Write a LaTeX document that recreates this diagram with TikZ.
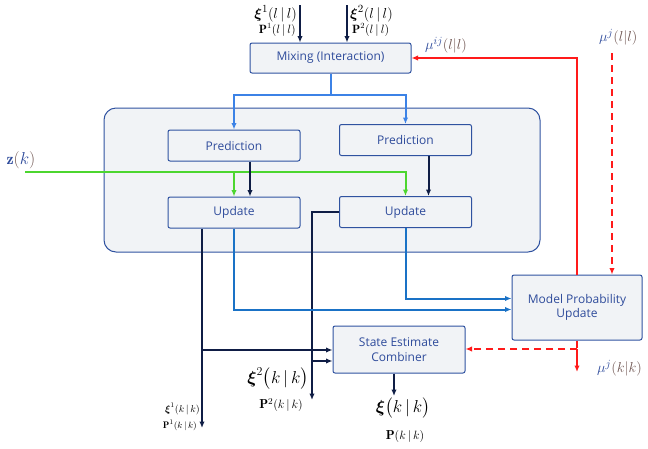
\documentclass[tikz,border=0pt]{standalone}
\usepackage{amsmath, amssymb}
\usepackage{fontspec}
\setsansfont{Open Sans}
\usepackage{tikz}
\usetikzlibrary{arrows.meta, calc, positioning}
\usepackage{xcolor}
\definecolor{boxfill}{HTML}{F1F3F6}
\definecolor{boxline}{HTML}{2F52A0}
\definecolor{boxtext}{HTML}{2E4B9B}
\definecolor{navy}{HTML}{0F1D45}
\definecolor{blueA}{HTML}{3C82E6}
\definecolor{blueB}{HTML}{1A72C6}
\definecolor{greenZ}{HTML}{4CD62F}
\definecolor{redM}{HTML}{FF1A1A}
\definecolor{muparen}{HTML}{6E5450}
\newcommand{\muLab}[2]{${\color{boxtext}\mu^{#1}}{\color{muparen}(#2)}$}
\newcommand{\fs}[1]{\fontsize{#1}{#1}\selectfont}

\tikzset{
    blk/.style = {draw = boxline, fill = boxfill, rounded corners = 2pt, line width = 1pt,
        text = boxtext, font = \sffamily\fontsize{12}{14.5}\selectfont, align = center,
        minimum width = 132pt, minimum height = 31pt, inner sep = 1pt},
    navyline/.style = {draw = navy, line width = 2pt},
    bluelineA/.style = {draw = blueA, line width = 2pt},
    bluelineB/.style = {draw = blueB, line width = 2pt},
    greenline/.style = {draw = greenZ, line width = 2pt},
    redline/.style = {draw = redM, line width = 2pt},
    lab/.style = {inner sep = 0pt}
}

\begin{document}
\begin{tikzpicture}[x = 1pt, y = -1pt, >={Latex[length=6.5pt, width=5.5pt]}]
    \useasboundingbox (0,0) rectangle (648,448);

    % Pannello dei due filtri
    \draw[draw = boxline, fill = boxfill, line width = 1pt, rounded corners = 12pt] (104,108) rectangle (540,252);

    % Blocchi
    \node[blk, minimum width = 161pt, minimum height = 30pt] (mix) at (330.5,58) {Mixing (Interaction)};
    \node[blk] (predL) at (234,145.5) {Prediction};
    \node[blk] (predR) at (405.5,140) {Prediction};
    \node[blk] (updL) at (234,212.5) {Update};
    \node[blk] (updR) at (405.5,212) {Update};
    \node[blk, minimum width = 130pt, minimum height = 65pt] (mpu) at (577,307.5) {Model Probability\\Update};
    \node[blk, minimum height = 47pt] (comb) at (399,349.5) {State Estimate\\Combiner};

    % Ingressi del mixing
    \coordinate (inA) at (300,5);
    \coordinate (inB) at (347,5);
    \draw[navyline, ->] (inA) -- (inA |- mix.north);
    \draw[navyline, ->] (inB) -- (inB |- mix.north);
    \node[lab, anchor = east, font = \fs{15}] (xiA) at (297,14) {$\boldsymbol{\xi}^1(l\,|\,l)$};
    \node[lab, anchor = east, font = \fs{12}] (pA) at (296,30) {$\mathbf{P}^1(l\,|\,l)$};
    \node[lab, anchor = west, font = \fs{15}] (xiB) at (350,14) {$\boldsymbol{\xi}^2(l\,|\,l)$};
    \node[lab, anchor = west, font = \fs{12}] (pB) at (352,30) {$\mathbf{P}^2(l\,|\,l)$};

    % Mixing -> predizioni
    \coordinate (split) at (330.5,95);
    \draw[bluelineA] (mix.south) -- (split);
    \draw[bluelineA, ->] (split) -| (predL.north);
    \draw[bluelineA, ->] (split) -| (predR.north);

    % Misura z(k)
    \node[lab, text = boxtext, font = \fs{16}] (zk) at (21,160) {$\mathbf{z}{\color{muparen}(}k{\color{muparen})}$};
    \coordinate (zstart) at (25,172);
    \draw[greenline, ->] (zstart) -| (updR.north);
    \draw[greenline, ->] (zstart -| updL.north) -- (updL.north);

    % Predizione -> aggiornamento
    \draw[navyline, ->] ([xshift = 16pt]predL.south) -- ([xshift = 16pt]updL.north);
    \draw[navyline, ->] ([xshift = 23pt]predR.south) -- ([xshift = 23pt]updR.north);

    % Uscite dei filtri
    \coordinate (outA) at (202,428);
    \coordinate (outB) at (312,400);
    \coordinate (jA) at (202,350);
    \coordinate (jB) at (312,361);
    \draw[navyline, ->] (updL.south -| outA) -- (outA);
    \draw[navyline, ->] (updR.west) -| (outB);
    \draw[navyline, ->] (jA) -- (jA -| comb.west);
    \draw[navyline, ->] (jB) -- (jB -| comb.west);
    \node[lab, anchor = east, font = \fs{10}] (xiOutA) at (200,409) {$\boldsymbol{\xi}^1(k\,|\,k)$};
    \node[lab, anchor = east, font = \fs{9.5}] (pOutA) at (197,425) {$\mathbf{P}^1(k\,|\,k)$};
    \node[lab, anchor = east, font = \fs{18}] (xiOutB) at (309,379) {$\boldsymbol{\xi}^2\big(k\,|\,k\big)$};
    \node[lab, font = \fs{13}] (pOutB) at (281,405) {$\mathbf{P}^2(k\,|\,k)$};

    % Verso l'aggiornamento delle probabilita
    \draw[bluelineB, ->] (updL.south) |- ([yshift = -2pt]mpu.west);
    \draw[bluelineB, ->] (updR.south) |- ([yshift = 9pt]mpu.west);

    % Probabilita dei modelli
    \draw[redline, ->] (mpu.north) |- (mix.east);
    \node[lab, font = \fs{15}] (muij) at (446,45) {\muLab{ij}{l|l}};
    \coordinate (rtop) at (612,53);
    \node[lab, anchor = west, font = \fs{15}] (mul) at (599,37) {\muLab{j}{l|l}};
    \draw[redline, dashed, dash pattern = on 7pt off 5pt, ->] (rtop) -- (rtop |- mpu.north);
    \coordinate (rj) at (577,349);
    \coordinate (mukk) at (577,372);
    \draw[redline, dashed, dash pattern = on 7pt off 5pt] (mpu.south) -- (rj);
    \draw[redline, dashed, dash pattern = on 7pt off 5pt, ->] (rj) -- (comb.east |- rj);
    \draw[redline, ->] (rj) -- (mukk);
    \node[lab, anchor = west, font = \fs{15}] (mukl) at (597,368) {\muLab{j}{k|k}};

    % Uscita del combinatore
    \coordinate (xi) at (394,396);
    \draw[navyline, ->] (comb.south -| xi) -- (xi);
    \node[lab, font = \fs{17}] (xiOut) at (403,408) {$\boldsymbol{\xi}\big(k\,|\,k\big)$};
    \node[lab, font = \fs{13}] (pOut) at (405,436) {$\mathbf{P}(k\,|\,k)$};
\end{tikzpicture}
\end{document}
